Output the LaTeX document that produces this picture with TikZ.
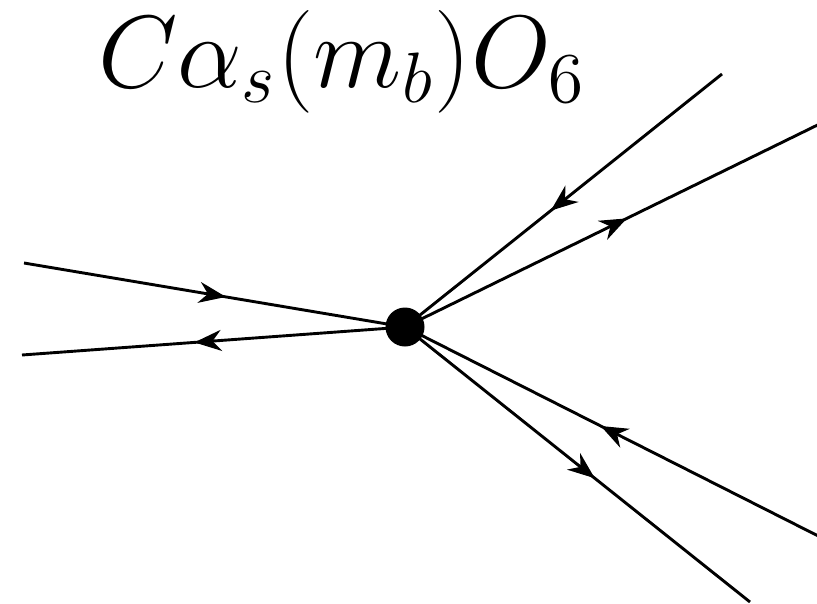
\documentclass[tikz,border=0pt]{standalone}
\usetikzlibrary{arrows.meta,decorations.markings}
\begin{document}
\begin{tikzpicture}[x=1pt,y=-1pt,
  prop/.style={line width=2.9pt},
  arrowmid/.style={postaction={decorate},decoration={markings,
     mark=at position #1 with {\arrow{Stealth[length=27pt,width=21pt]}}}},
  vertex/.style={circle,fill=black,inner sep=0pt,minimum size=39pt}]
\useasboundingbox (0,0) rectangle (817,603);
\node[anchor=base west,inner sep=0pt,scale=5.95] (lbl) at (97,87) {\LARGE $C\alpha_s(m_b)O_6$};
\node[vertex] (v) at (405,327) {};
\coordinate (a1) at (24,263);
\coordinate (a2) at (22,355);
\coordinate (a3) at (722,74);
\coordinate (a4) at (840,114);
\coordinate (a5) at (840,547);
\coordinate (a6) at (750,602);
\begin{scope}
\clip (0,0) rectangle (817,603);
\draw[prop,arrowmid=0.53] (a1) -- (v.center);
\draw[prop,arrowmid=0.55] (v.center) -- (a2);
\draw[prop,arrowmid=0.54] (a3) -- (v.center);
\draw[prop,arrowmid=0.51] (v.center) -- (a4);
\draw[prop,arrowmid=0.55] (a5) -- (v.center);
\draw[prop,arrowmid=0.55] (v.center) -- (a6);
\end{scope}
\end{tikzpicture}
\end{document}
